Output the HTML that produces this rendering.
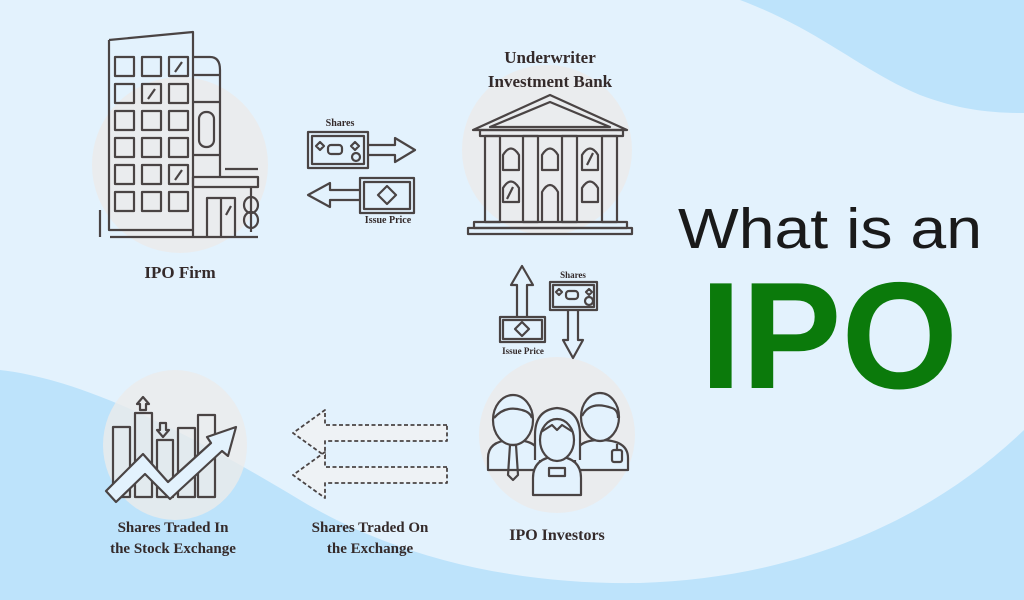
<!DOCTYPE html>
<html><head><meta charset="utf-8"><style>
html,body{margin:0;padding:0;width:1024px;height:600px;overflow:hidden;background:#e3f2fd;}
svg{display:block}
.l{font-family:"Liberation Serif",serif;font-weight:bold;fill:#342a2a;text-anchor:middle}
</style></head><body>
<svg width="1024" height="600" viewBox="0 0 1024 600" xmlns="http://www.w3.org/2000/svg">
<rect width="1024" height="600" fill="#e3f2fd"/>
<path d="M740,0 C820,30 860,70 920,95 C960,110 990,113 1024,113 L1024,0 Z" fill="#bde3fb"/>
<path d="M0,370 C90,380 200,440 300,500 C400,560 520,585 640,583 C800,578 930,520 1024,430 L1024,600 L0,600 Z" fill="#bde3fb"/>
<circle cx="180" cy="165" r="88" fill="#ebebeb" opacity="0.85"/>
<circle cx="547" cy="150" r="85" fill="#ebebeb" opacity="0.85"/>
<circle cx="557" cy="435" r="78" fill="#ebebeb" opacity="0.85"/>
<ellipse cx="175" cy="445" rx="72" ry="75" fill="#ebebeb" opacity="0.8"/>

<g fill="none" stroke="#4a4444" stroke-width="2.2" stroke-linejoin="round">
<path d="M109,40 L193,32 L193,237 M109,40 L109,230 L193,230"/>
<path d="M100,210 L100,237 M110,237 L258,237"/>
<g>
<rect x="115" y="57" width="19" height="19"/><rect x="142" y="57" width="19" height="19"/><rect x="169" y="57" width="19" height="19"/>
<rect x="115" y="84" width="19" height="19"/><rect x="142" y="84" width="19" height="19"/><rect x="169" y="84" width="19" height="19"/>
<rect x="115" y="111" width="19" height="19"/><rect x="142" y="111" width="19" height="19"/><rect x="169" y="111" width="19" height="19"/>
<rect x="115" y="138" width="19" height="19"/><rect x="142" y="138" width="19" height="19"/><rect x="169" y="138" width="19" height="19"/>
<rect x="115" y="165" width="19" height="19"/><rect x="142" y="165" width="19" height="19"/><rect x="169" y="165" width="19" height="19"/>
<rect x="115" y="192" width="19" height="19"/><rect x="142" y="192" width="19" height="19"/><rect x="169" y="192" width="19" height="19"/>
<path d="M175,72 L182,62 M148,99 L155,89 M175,180 L182,170"/>
</g>
<path d="M193,57 L210,57 Q220,57 220,70 L220,177 M193,75 L220,75 M193,102 L220,102 M193,155 L220,155"/>
<rect x="199" y="112" width="15" height="35" rx="7"/>
<path d="M225,169 L258,169"/>
<rect x="193" y="177" width="65" height="10"/>
<path d="M207,237 L207,198 L235,198 L235,237 M221,198 L221,237 M226,215 L231,206"/>
<path d="M251,187 L251,232"/>
<ellipse cx="251" cy="205" rx="7" ry="8"/><ellipse cx="251" cy="220" rx="7" ry="8"/>

<rect x="308" y="132" width="60" height="36"/><rect x="312" y="136" width="52" height="28"/>
<path d="M320,142 l4,4 -4,4 -4,-4z M355,142 l4,4 -4,4 -4,-4z"/><rect x="328" y="145" width="14" height="9" rx="3"/><circle cx="356" cy="157" r="4"/>
<path d="M368,145 L395,145 L395,138 L415,150 L395,162 L395,155 L368,155"/>
<rect x="360" y="178" width="54" height="35"/><rect x="364" y="182" width="46" height="27"/>
<path d="M387,186 l9,9 -9,9 -9,-9z"/>
<path d="M360,190 L330,190 L330,183 L308,195 L330,207 L330,200 L360,200"/>

<path d="M473,130 L550,95 L627,130 Z M490,127 L550,102 L610,127 Z"/>
<rect x="480" y="130" width="143" height="6"/>
<rect x="485" y="136" width="15" height="86"/><rect x="523" y="136" width="15" height="86"/><rect x="562" y="136" width="15" height="86"/><rect x="602" y="136" width="15" height="86"/>
<path d="M503,170 L503,155 Q511,142 519,155 L519,170 Z M542,170 L542,155 Q550,142 558,155 L558,170 Z M582,170 L582,155 Q590,142 598,155 L598,170 Z"/>
<path d="M503,202 L503,188 Q511,175 519,188 L519,202 Z M582,202 L582,188 Q590,175 598,188 L598,202 Z M542,222 L542,192 Q550,178 558,192 L558,222"/>
<path d="M587,165 L593,153 M507,199 L513,187"/>
<rect x="474" y="222" width="153" height="6"/><rect x="468" y="228" width="164" height="6"/>

<path d="M517,317 L517,285 L511,285 L522,266 L533,285 L527,285 L527,317"/>
<rect x="500" y="317" width="45" height="25"/><rect x="503" y="320" width="39" height="19"/>
<path d="M522,322 l7,7 -7,7 -7,-7z"/>
<rect x="550" y="282" width="47" height="28"/><rect x="553" y="285" width="41" height="22"/>
<path d="M559,289 l3,3 -3,3 -3,-3z M589,289 l3,3 -3,3 -3,-3z"/><rect x="566" y="291" width="12" height="8" rx="3"/><circle cx="589" cy="301" r="4"/>
<path d="M568,310 L568,340 L563,340 L573,358 L583,340 L578,340 L578,310"/>

<!-- investors -->
<path d="M488,470 L488,458 Q488,440 513,440 Q540,440 540,458 L540,470 Z" fill="#e3f2fd"/>
<ellipse cx="513" cy="420" rx="20" ry="25" fill="#e3f2fd"/>
<path d="M494,418 Q505,405 522,410 Q530,412 532,418"/>
<path d="M510,445 L516,445 L518,475 L513,480 L508,475 Z"/>
<path d="M575,470 L575,458 Q575,440 600,440 Q628,440 628,458 L628,470 Z" fill="#e3f2fd"/>
<ellipse cx="600" cy="417" rx="19" ry="24" fill="#e3f2fd"/>
<path d="M582,416 Q590,400 612,408 Q618,410 618,418"/>
<rect x="612" y="450" width="10" height="12" rx="2"/>
<path d="M617,450 L617,444"/>
<path d="M535,460 L535,435 Q535,410 557,408 Q580,410 580,435 L580,460" fill="#e3f2fd"/>
<path d="M533,495 L533,478 Q533,458 557,456 Q581,458 581,478 L581,495 Z" fill="#e3f2fd"/>
<ellipse cx="557" cy="440" rx="17" ry="21" fill="#e3f2fd"/>
<path d="M541,432 L552,425 L557,430 L562,425 L573,432"/>
<rect x="549" y="468" width="16" height="8"/>

<rect x="113" y="427" width="17" height="70"/><rect x="135" y="413" width="17" height="84"/><rect x="157" y="440" width="16" height="57"/><rect x="178" y="428" width="17" height="69"/><rect x="198" y="415" width="17" height="82"/>
<path d="M140,410 L140,404 L137,404 L143,397 L149,404 L146,404 L146,410 Z"/>
<path d="M160,423 L160,430 L157,430 L163,437 L169,430 L166,430 L166,423 Z"/>
<path d="M106,491 L143,454 L168,482 L211,443 L207,437 L236,427 L228,456 L222,451 L170,499 L145,474 L116,502 Z" fill="#e3f2fd"/>

<g stroke-dasharray="4,2.5" stroke-width="1.8" fill="#eef2f5">
<path d="M447,425 L325,425 L325,410 L293,433 L325,456 L325,441 L447,441 Z"/>
<path d="M447,467 L325,467 L325,452 L293,475 L325,498 L325,483 L447,483 Z"/>
</g>
</g>

<text class="l" x="340" y="126" font-size="10">Shares</text>
<text class="l" x="388" y="223" font-size="10">Issue Price</text>
<text class="l" x="180" y="278" font-size="17">IPO Firm</text>
<text class="l" x="550" y="63" font-size="17">Underwriter</text>
<text class="l" x="550" y="87" font-size="17">Investment Bank</text>
<text class="l" x="573" y="278" font-size="9">Shares</text>
<text class="l" x="523" y="354" font-size="9">Issue Price</text>
<text class="l" x="557" y="540" font-size="16">IPO Investors</text>
<text class="l" x="173" y="532" font-size="15">Shares Traded In</text>
<text class="l" x="173" y="553" font-size="15">the Stock Exchange</text>
<text class="l" x="370" y="532" font-size="15">Shares Traded On</text>
<text class="l" x="370" y="553" font-size="15">the Exchange</text>

<text x="678" y="248" font-family="'Liberation Sans',sans-serif" font-size="57" fill="#1a1a1a" textLength="304" lengthAdjust="spacingAndGlyphs">What is an</text>
<text x="700" y="388" font-family="'Liberation Sans',sans-serif" font-weight="bold" font-size="152" fill="#0b7a0b" textLength="258" lengthAdjust="spacingAndGlyphs">IPO</text>
</svg>
</body></html>
